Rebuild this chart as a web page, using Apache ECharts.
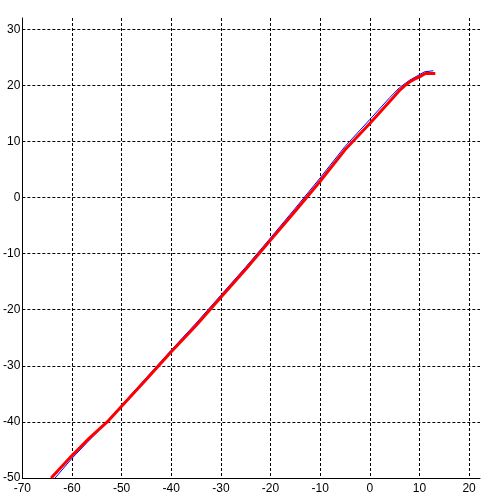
<!DOCTYPE html>
<html>
<head>
<meta charset="utf-8">
<title>line chart</title>
<script src="https://cdn.jsdelivr.net/npm/echarts@6/dist/echarts.min.js"></script>
<style>
  html, body {
    margin: 0;
    padding: 0;
    background: #fff;
  }
  #charts {
    width: 494px;
    height: 499px;
  }
</style>
</head>
<body>
<div id="charts"></div>
<script>
  // tick labels
  var xTicks = [-70, -60, -50, -40, -30, -20, -10, 0, 10, 20];
  var yTicks = [-50, -40, -30, -20, -10, 0, 10, 20, 30];

  // blue (thin) series
  var blueX = [-63.4, -60, -57, -55, -50, -45, -40, -35, -30, -25, -20, -15, -10, -5, 0, 4, 6, 8, 10, 11, 12.8];
  var blueY = [-50, -46.5, -43.7, -41.9, -37.0, -32.1, -27.2, -22.4, -17.4, -12.4, -7.2, -1.9, 3.5, 9.1, 13.9, 17.8, 19.6, 20.9, 21.9, 22.4, 22.6];

  // red (thick) series
  var redX = [-64.2, -60, -56.5, -52.9, -50, -45, -40, -35, -30, -25, -20, -15, -10, -5, 0, 4, 5, 6, 7, 8, 9, 10, 11.2, 13.2];
  var redY = [-50, -46.0, -42.9, -40, -37.2, -32.4, -27.5, -22.8, -17.8, -12.8, -7.6, -2.4, 2.9, 8.5, 13.2, 17.1, 18.1, 19.1, 19.9, 20.6, 21.1, 21.5, 22.1, 22.1];

  function pairs(xs, ys) {
    var out = [];
    for (var i = 0; i < xs.length; i++) {
      out.push([xs[i], ys[i]]);
    }
    return out;
  }

  var gridLine = {
    show: true,
    lineStyle: { color: '#000', width: 1, type: [3, 2] }
  };

  var option = {
    animation: false,
    backgroundColor: '#fff',
    grid: { left: 20, top: 18, right: 14, bottom: 21, containLabel: false },
    xAxis: {
      type: 'value',
      min: -70,
      max: 22.2,
      axisLine: { show: true, onZero: false, lineStyle: { color: '#000', width: 1 } },
      axisTick: { show: false, customValues: xTicks },
      axisLabel: {
        customValues: xTicks,
        color: '#000',
        fontSize: 12,
        fontFamily: 'Liberation Sans',
        margin: 5
      },
      splitLine: gridLine
    },
    yAxis: {
      type: 'value',
      min: -50,
      max: 32,
      axisLine: { show: true, onZero: false, lineStyle: { color: '#000', width: 1 } },
      axisTick: { show: false, customValues: yTicks },
      axisLabel: {
        customValues: yTicks,
        color: '#000',
        fontSize: 12,
        fontFamily: 'Liberation Sans',
        margin: 2
      },
      splitLine: gridLine
    },
    series: [{
      name: 'blue',
      type: 'line',
      showSymbol: false,
      smooth: false,
      lineStyle: { color: '#0000ff', width: 1 },
      data: pairs(blueX, blueY)
    }, {
      name: 'red',
      type: 'line',
      showSymbol: false,
      smooth: false,
      lineStyle: { color: '#ff0000', width: 3 },
      data: pairs(redX, redY)
    }]
  };

  var myChart = echarts.init(document.getElementById('charts'));
  myChart.setOption(option);
</script>
</body>
</html>
